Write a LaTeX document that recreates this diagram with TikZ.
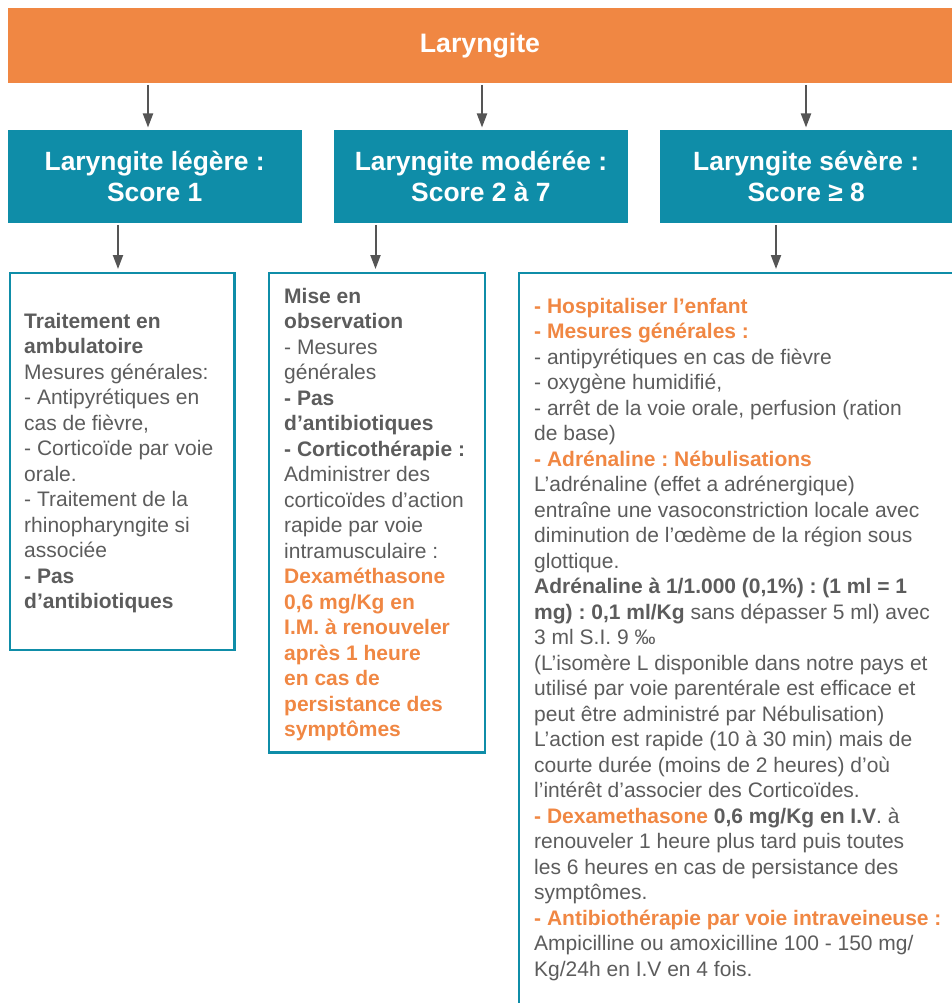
\documentclass[tikz,border=0pt]{standalone}
\usepackage{fontspec}
\setmainfont{Liberation Sans}
\usetikzlibrary{arrows.meta}
\frenchspacing

\definecolor{lorange}{HTML}{F08743}
\definecolor{lteal}{HTML}{0F8DA8}
\definecolor{ltext}{HTML}{5C5C5C}
\definecolor{larrow}{HTML}{555555}

% fixes the height of the first line so text blocks start at a known baseline
\newcommand\firstline{\vrule width 0pt height 18pt\relax}
\newcommand\hl[1]{\textcolor{lorange}{\textbf{#1}}}

\tikzset{
  titlebar/.style={fill=lorange, text=white, inner sep=0pt,
    font=\fontsize{26.7}{31}\selectfont\bfseries},
  levelbox/.style={fill=lteal, text=white, inner sep=0pt, align=center,
    font=\fontsize{26.4}{31}\selectfont\bfseries},
  carebox/.style={draw=lteal, line width=2.5pt, inner sep=0pt},
  caretext/.style={inner sep=0pt, align=left, text=ltext,
    font=\fontsize{21}{25.5}\selectfont, anchor=north west},
  arr/.style={draw=larrow, line width=2pt,
    -{Triangle[length=14pt,width=10pt]}, shorten <=2pt, shorten >=2.5pt},
}

\begin{document}
\begin{tikzpicture}[x=1pt,y=-1pt]
\useasboundingbox (0,0) rectangle (952,1003);
\clip (0,0) rectangle (952,1003);

% title bar
\node[titlebar, anchor=north west, minimum width=944.5pt, minimum height=74.5pt]
  (top) at (7.5,8) {Laryngite};

% severity levels
\node[levelbox, anchor=north west, minimum width=294pt, minimum height=92.5pt]
  (b1) at (7.5,130) {Laryngite légère :\\Score 1};
\node[levelbox, anchor=north west, minimum width=293.5pt, minimum height=92.5pt]
  (b2) at (334,130) {Laryngite modérée :\\Score 2 à 7};
\node[levelbox, anchor=north west, minimum width=292pt, minimum height=92.5pt]
  (b3) at (660,130) {Laryngite sévère :\\Score ≥ 8};

% treatment frames
\node[carebox, anchor=north west, minimum width=224.5pt, minimum height=377pt]
  (l1) at (8.5,271.5) {};
\node[carebox, anchor=north west, minimum width=216pt, minimum height=479.5pt]
  (l2) at (267.5,271.5) {};
\node[carebox, anchor=north west, minimum width=518pt, minimum height=780pt]
  (l3) at (517.5,271.5) {};

% connectors
\coordinate (a1) at (148,0);
\coordinate (a2) at (482,0);
\coordinate (a3) at (806,0);
\coordinate (c1) at (118,0);
\coordinate (c2) at (375.5,0);
\coordinate (c3) at (776,0);
\draw[arr] (top.south -| a1) -- (b1.north -| a1);
\draw[arr] (top.south -| a2) -- (b2.north -| a2);
\draw[arr] (top.south -| a3) -- (b3.north -| a3);
\draw[arr] (b1.south -| c1) -- (l1.north -| c1);
\draw[arr] (b2.south -| c2) -- (l2.north -| c2);
\draw[arr] (b3.south -| c3) -- (l3.north -| c3);

% treatment texts
\node[caretext] (t1) at (24,310) {\firstline\textbf{Traitement en}\\
\textbf{ambulatoire}\\
Mesures générales:\\
- Antipyrétiques en\\
cas de fièvre,\\
- Corticoïde par voie\\
orale.\\
- Traitement de la\\
rhinopharyngite si\\
associée\\
\textbf{- Pas}\\
\textbf{d’antibiotiques}};

\node[caretext] (t2) at (284,285) {\firstline\textbf{Mise en}\\
\textbf{observation}\\
- Mesures\\
générales\\
\textbf{- Pas}\\
\textbf{d’antibiotiques}\\
\textbf{- Corticothérapie :}\\
Administrer des\\
corticoïdes d’action\\
rapide par voie\\
intramusculaire :\\
\hl{Dexaméthasone}\\
\hl{0,6 mg/Kg en}\\
\hl{I.M. à renouveler}\\
\hl{après 1 heure}\\
\hl{en cas de}\\
\hl{persistance des}\\
\hl{symptômes}};

\node[caretext] (t3) at (534,295) {\firstline\hl{- Hospitaliser l’enfant}\\
\hl{- Mesures générales :}\\
- antipyrétiques en cas de fièvre\\
- oxygène humidifié,\\
- arrêt de la voie orale, perfusion (ration\\
de base)\\
\hl{- Adrénaline : Nébulisations}\\
L’adrénaline (effet a adrénergique)\\
entraîne une vasoconstriction locale avec\\
diminution de l’œdème de la région sous\\
glottique.\\
\textbf{Adrénaline à 1/1.000 (0,1\%) : (1 ml = 1}\\
\textbf{mg) : 0,1 ml/Kg} sans dépasser 5 ml) avec\\
3 ml S.I. 9 ‰\\
(L’isomère L disponible dans notre pays et\\
utilisé par voie parentérale est efficace et\\
peut être administré par Nébulisation)\\
L’action est rapide (10 à 30 min) mais de\\
courte durée (moins de 2 heures) d’où\\
l’intérêt d’associer des Corticoïdes.\\
\hl{- Dexamethasone} \textbf{0,6 mg/Kg en I.V}. à\\
renouveler 1 heure plus tard puis toutes\\
les 6 heures en cas de persistance des\\
symptômes.\\
\hl{- Antibiothérapie par voie intraveineuse :}\\
Ampicilline ou amoxicilline 100 - 150 mg/\\
Kg/24h en I.V en 4 fois.};
\end{tikzpicture}
\end{document}
